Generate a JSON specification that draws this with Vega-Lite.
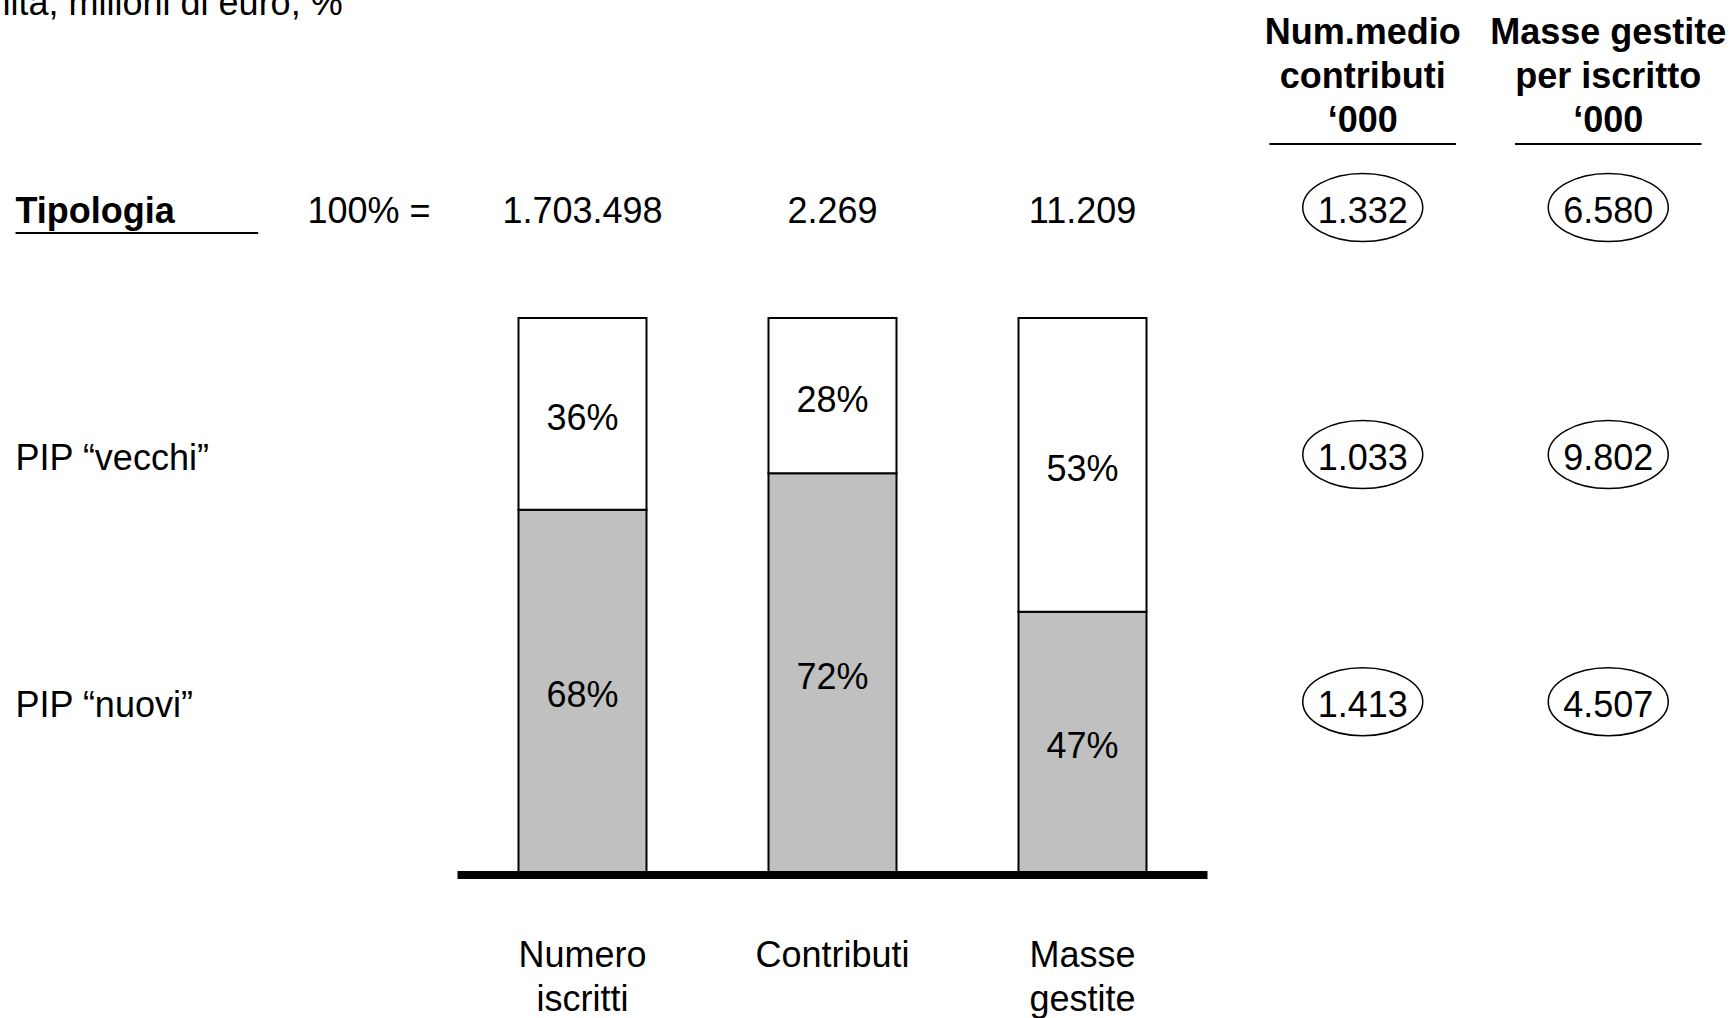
{
  "$schema": "https://vega.github.io/schema/vega-lite/v6.json",
  "width": 1733,
  "height": 1018,
  "padding": 0,
  "autosize": {"type": "none"},
  "background": "white",
  "config": {
    "view": {"stroke": null},
    "font": "Liberation Sans",
    "text": {"font": "Liberation Sans", "fontSize": 36, "fill": "black"},
    "locale": {"number": {"decimal": ",", "thousands": ".", "grouping": [3], "currency": ["€", ""]}}
  },
  "datasets": {
    "barre": [
      {"cat": "Numero iscritti", "tipo": "PIP “nuovi”", "quota": 0.68},
      {"cat": "Numero iscritti", "tipo": "PIP “vecchi”", "quota": 0.36},
      {"cat": "Contributi", "tipo": "PIP “nuovi”", "quota": 0.72},
      {"cat": "Contributi", "tipo": "PIP “vecchi”", "quota": 0.28},
      {"cat": "Masse gestite", "tipo": "PIP “nuovi”", "quota": 0.47},
      {"cat": "Masse gestite", "tipo": "PIP “vecchi”", "quota": 0.53}
    ],
    "totali": [
      {"cat": "Numero iscritti", "totale": 1703498},
      {"cat": "Contributi", "totale": 2269},
      {"cat": "Masse gestite", "totale": 11209}
    ],
    "righe": [
      {"row": "Tipologia"},
      {"row": "PIP “vecchi”"},
      {"row": "PIP “nuovi”"}
    ],
    "intestazioni": [
      {"col": "contributi", "titolo": "Num.medio|contributi|‘000"},
      {"col": "masse", "titolo": "Masse gestite|per iscritto|‘000"}
    ],
    "medie": [
      {"row": "Tipologia", "col": "contributi", "v": 1332},
      {"row": "Tipologia", "col": "masse", "v": 6580},
      {"row": "PIP “vecchi”", "col": "contributi", "v": 1033},
      {"row": "PIP “vecchi”", "col": "masse", "v": 9802},
      {"row": "PIP “nuovi”", "col": "contributi", "v": 1413},
      {"row": "PIP “nuovi”", "col": "masse", "v": 4507}
    ]
  },
  "layer": [
    {
      "data": {"name": "barre"},
      "transform": [
        {"stack": "quota", "groupby": ["cat"], "sort": [{"field": "tipo", "order": "ascending"}], "offset": "normalize", "as": ["y0", "y1"]}
      ],
      "mark": {"type": "bar", "stroke": "black", "strokeWidth": 2},
      "encoding": {
        "x": {"field": "cat", "type": "nominal", "axis": null, "scale": {"type": "band", "domain": ["Numero iscritti", "Contributi", "Masse gestite"], "range": [457.5, 1207.5], "paddingInner": 0.488, "paddingOuter": 0.244}},
        "y": {"field": "y0", "type": "quantitative", "axis": null, "scale": {"type": "linear", "domain": [-0.2635, 1.574], "range": [1018, 0], "nice": false, "zero": false}},
        "y2": {"field": "y1"},
        "fill": {"field": "tipo", "type": "nominal", "legend": null, "scale": {"domain": ["PIP “nuovi”", "PIP “vecchi”"], "range": ["#C0C0C0", "#FFFFFF"]}}
      }
    },
    {
      "data": {"name": "barre"},
      "transform": [
        {"stack": "quota", "groupby": ["cat"], "sort": [{"field": "tipo", "order": "ascending"}], "offset": "normalize", "as": ["y0", "y1"]},
        {"fold": ["y0", "y1"], "as": ["estremo", "pos"]},
        {"aggregate": [{"op": "mean", "field": "pos", "as": "centro"}], "groupby": ["cat", "tipo", "quota"]}
      ],
      "mark": {"type": "text", "align": "center", "baseline": "middle", "dy": 5},
      "encoding": {
        "x": {"field": "cat", "type": "nominal", "axis": null, "scale": {"type": "band", "domain": ["Numero iscritti", "Contributi", "Masse gestite"], "range": [457.5, 1207.5], "paddingInner": 0.488, "paddingOuter": 0.244}},
        "y": {"field": "centro", "type": "quantitative", "axis": null, "scale": {"type": "linear", "domain": [-0.2635, 1.574], "range": [1018, 0], "nice": false, "zero": false}},
        "text": {"field": "quota", "type": "quantitative", "format": ".0%"}
      }
    },
    {
      "data": {"values": [{}]},
      "mark": {"type": "rule", "color": "black", "strokeWidth": 8, "xOffset": -61, "x2Offset": 61, "yOffset": 3},
      "encoding": {
        "x": {"datum": "Numero iscritti", "bandPosition": 0, "axis": null, "scale": {"type": "band", "domain": ["Numero iscritti", "Contributi", "Masse gestite"], "range": [457.5, 1207.5], "paddingInner": 0.488, "paddingOuter": 0.244}},
        "x2": {"datum": "Masse gestite", "bandPosition": 1},
        "y": {"datum": 0, "type": "quantitative", "axis": null, "scale": {"type": "linear", "domain": [-0.2635, 1.574], "range": [1018, 0], "nice": false, "zero": false}}
      }
    },
    {
      "data": {"name": "totali"},
      "mark": {"type": "text", "align": "center", "baseline": "middle", "dy": 4},
      "encoding": {
        "x": {"field": "cat", "type": "nominal", "axis": null, "scale": {"type": "band", "domain": ["Numero iscritti", "Contributi", "Masse gestite"], "range": [457.5, 1207.5], "paddingInner": 0.488, "paddingOuter": 0.244}},
        "y": {"datum": "Tipologia", "type": "nominal", "axis": null, "scale": {"type": "point", "domain": ["Tipologia", "PIP “vecchi”", "PIP “nuovi”"], "range": [207.5, 701.7], "padding": 0}},
        "text": {"field": "totale", "type": "quantitative", "format": ",d"}
      }
    },
    {
      "data": {"name": "totali"},
      "mark": {"type": "text", "align": "center", "baseline": "alphabetic", "lineBreak": " ", "lineHeight": 44},
      "encoding": {
        "x": {"field": "cat", "type": "nominal", "axis": null, "scale": {"type": "band", "domain": ["Numero iscritti", "Contributi", "Masse gestite"], "range": [457.5, 1207.5], "paddingInner": 0.488, "paddingOuter": 0.244}},
        "y": {"datum": -0.1709, "type": "quantitative", "axis": null, "scale": {"type": "linear", "domain": [-0.2635, 1.574], "range": [1018, 0], "nice": false, "zero": false}},
        "text": {"field": "cat", "type": "nominal"}
      }
    },
    {
      "data": {"values": [{}]},
      "mark": {"type": "text", "align": "left", "baseline": "alphabetic", "dx": -51},
      "encoding": {
        "x": {"datum": "etichetta", "bandPosition": 0, "axis": null, "scale": {"type": "band", "domain": ["etichetta", "base"], "range": [15.5, 486.9], "paddingInner": 0, "paddingOuter": 0}},
        "y": {"datum": 1.5469, "type": "quantitative", "axis": null, "scale": {"type": "linear", "domain": [-0.2635, 1.574], "range": [1018, 0], "nice": false, "zero": false}},
        "text": {"value": "Unità, milioni di euro, %"}
      }
    },
    {
      "data": {"name": "righe"},
      "transform": [{"filter": "datum.row !== 'Tipologia'"}],
      "mark": {"type": "text", "align": "left", "baseline": "middle", "dy": 4},
      "encoding": {
        "x": {"datum": "etichetta", "bandPosition": 0, "axis": null, "scale": {"type": "band", "domain": ["etichetta", "base"], "range": [15.5, 486.9], "paddingInner": 0, "paddingOuter": 0}},
        "y": {"field": "row", "type": "nominal", "axis": null, "scale": {"type": "point", "domain": ["Tipologia", "PIP “vecchi”", "PIP “nuovi”"], "range": [207.5, 701.7], "padding": 0}},
        "text": {"field": "row", "type": "nominal"}
      }
    },
    {
      "data": {"name": "righe"},
      "transform": [{"filter": "datum.row === 'Tipologia'"}],
      "mark": {"type": "text", "align": "left", "baseline": "middle", "dy": 4, "fontWeight": "bold"},
      "encoding": {
        "x": {"datum": "etichetta", "bandPosition": 0, "axis": null, "scale": {"type": "band", "domain": ["etichetta", "base"], "range": [15.5, 486.9], "paddingInner": 0, "paddingOuter": 0}},
        "y": {"field": "row", "type": "nominal", "axis": null, "scale": {"type": "point", "domain": ["Tipologia", "PIP “vecchi”", "PIP “nuovi”"], "range": [207.5, 701.7], "padding": 0}},
        "text": {"field": "row", "type": "nominal"}
      }
    },
    {
      "data": {"values": [{}]},
      "mark": {"type": "text", "align": "center", "baseline": "middle", "dy": 4},
      "encoding": {
        "x": {"datum": "base", "axis": null, "scale": {"type": "band", "domain": ["etichetta", "base"], "range": [15.5, 486.9], "paddingInner": 0, "paddingOuter": 0}},
        "y": {"datum": "Tipologia", "type": "nominal", "axis": null, "scale": {"type": "point", "domain": ["Tipologia", "PIP “vecchi”", "PIP “nuovi”"], "range": [207.5, 701.7], "padding": 0}},
        "text": {"value": "100% ="}
      }
    },
    {
      "data": {"values": [{}]},
      "mark": {"type": "rule", "color": "black", "strokeWidth": 2, "x2Offset": 7},
      "encoding": {
        "x": {"datum": "etichetta", "bandPosition": 0, "axis": null, "scale": {"type": "band", "domain": ["etichetta", "base"], "range": [15.5, 486.9], "paddingInner": 0, "paddingOuter": 0}},
        "x2": {"datum": "etichetta", "bandPosition": 1},
        "y": {"datum": 1.1534, "type": "quantitative", "axis": null, "scale": {"type": "linear", "domain": [-0.2635, 1.574], "range": [1018, 0], "nice": false, "zero": false}}
      }
    },
    {
      "data": {"name": "intestazioni"},
      "mark": {"type": "text", "align": "center", "baseline": "alphabetic", "fontWeight": "bold", "lineBreak": "|", "lineHeight": 44},
      "encoding": {
        "x": {"field": "col", "type": "nominal", "axis": null, "scale": {"type": "band", "domain": ["contributi", "masse"], "range": [1240, 1731], "paddingInner": 0.24, "paddingOuter": 0.12}},
        "y": {"datum": 1.4946, "type": "quantitative", "axis": null, "scale": {"type": "linear", "domain": [-0.2635, 1.574], "range": [1018, 0], "nice": false, "zero": false}},
        "text": {"field": "titolo", "type": "nominal"}
      }
    },
    {
      "data": {"name": "intestazioni"},
      "mark": {"type": "rule", "color": "black", "strokeWidth": 2},
      "encoding": {
        "x": {"field": "col", "type": "nominal", "bandPosition": 0, "axis": null, "scale": {"type": "band", "domain": ["contributi", "masse"], "range": [1240, 1731], "paddingInner": 0.24, "paddingOuter": 0.12}},
        "x2": {"field": "col", "bandPosition": 1},
        "y": {"datum": 1.3141, "type": "quantitative", "axis": null, "scale": {"type": "linear", "domain": [-0.2635, 1.574], "range": [1018, 0], "nice": false, "zero": false}}
      }
    },
    {
      "data": {"name": "medie"},
      "mark": {"type": "point", "shape": "M-1,0A1,0.567,0,1,1,1,0A1,0.567,0,1,1,-1,0Z", "size": 14400, "filled": false, "stroke": "black", "strokeWidth": 1.5, "opacity": 1},
      "encoding": {
        "x": {"field": "col", "type": "nominal", "axis": null, "scale": {"type": "band", "domain": ["contributi", "masse"], "range": [1240, 1731], "paddingInner": 0.24, "paddingOuter": 0.12}},
        "y": {"field": "row", "type": "nominal", "axis": null, "scale": {"type": "point", "domain": ["Tipologia", "PIP “vecchi”", "PIP “nuovi”"], "range": [207.5, 701.7], "padding": 0}}
      }
    },
    {
      "data": {"name": "medie"},
      "mark": {"type": "text", "align": "center", "baseline": "middle", "dy": 4},
      "encoding": {
        "x": {"field": "col", "type": "nominal", "axis": null, "scale": {"type": "band", "domain": ["contributi", "masse"], "range": [1240, 1731], "paddingInner": 0.24, "paddingOuter": 0.12}},
        "y": {"field": "row", "type": "nominal", "axis": null, "scale": {"type": "point", "domain": ["Tipologia", "PIP “vecchi”", "PIP “nuovi”"], "range": [207.5, 701.7], "padding": 0}},
        "text": {"field": "v", "type": "quantitative", "format": ",d"}
      }
    }
  ],
  "resolve": {"scale": {"x": "independent", "y": "independent"}}
}
